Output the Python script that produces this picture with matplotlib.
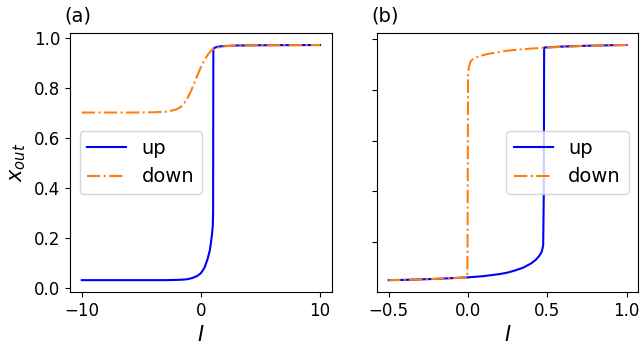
import matplotlib
matplotlib.use("Agg")
import matplotlib.pyplot as plt

# Panel (a)
a_up_x = [-10, -6, -3, -2, -1.5, -1.1, -0.7, -0.3, 0.0, 0.3, 0.56, 0.75, 0.85, 0.93, 0.99, 1.02, 1.04, 1.2, 1.5, 2.0, 3.0, 5.0, 10.0]
a_up_y = [0.030, 0.030, 0.030, 0.031, 0.032, 0.034, 0.039, 0.047, 0.058, 0.080, 0.115, 0.150, 0.185, 0.215, 0.245, 0.30, 0.955, 0.960, 0.964, 0.966, 0.968, 0.969, 0.970]
a_down_x = [-10, -6, -4, -3, -2.5, -2.0, -1.7, -1.4, -1.1, -0.8, -0.5, -0.2, 0.0, 0.3, 0.6, 0.9, 1.2, 1.6, 2.0, 3.0, 5.0, 10.0]
a_down_y = [0.700, 0.700, 0.701, 0.703, 0.707, 0.714, 0.722, 0.738, 0.760, 0.790, 0.825, 0.860, 0.882, 0.910, 0.933, 0.950, 0.957, 0.962, 0.965, 0.968, 0.969, 0.970]

# Panel (b)
b_up_x = [-0.5, -0.4, -0.3, -0.2, -0.1, 0.0, 0.1, 0.2, 0.25, 0.3, 0.35, 0.4, 0.43, 0.45, 0.465, 0.474, 0.478, 0.48, 0.6, 0.75, 0.9, 1.0]
b_up_y = [0.048, 0.049, 0.051, 0.053, 0.056, 0.059, 0.064, 0.072, 0.078, 0.087, 0.098, 0.115, 0.130, 0.145, 0.160, 0.185, 0.40, 0.968, 0.972, 0.975, 0.977, 0.978]
b_down_x = [1.0, 0.9, 0.75, 0.6, 0.5, 0.38, 0.253, 0.127, 0.07, 0.042, 0.025, 0.015, 0.006, 0.0, -0.003, -0.005, -0.1, -0.2, -0.3, -0.4, -0.5]
b_down_y = [0.978, 0.977, 0.975, 0.971, 0.968, 0.963, 0.956, 0.943, 0.934, 0.926, 0.919, 0.912, 0.892, 0.860, 0.20, 0.058, 0.056, 0.053, 0.051, 0.049, 0.048]

fig = plt.figure(figsize=(6.41, 3.5), dpi=100)
ax1 = fig.add_axes([0.109, 0.166, 0.409, 0.739])
ax2 = fig.add_axes([0.588, 0.166, 0.408, 0.739])

blue = (0.0, 0.0, 1.0)
orange = '#ff7f0e'

ax1.plot(a_up_x, a_up_y, '-', color=blue, lw=1.5, label='up')
ax1.plot(a_down_x, a_down_y, '-.', color=orange, lw=1.5, label='down')
ax2.plot(b_up_x, b_up_y, '-', color=blue, lw=1.5, label='up')
ax2.plot(b_down_x, b_down_y, '-.', color=orange, lw=1.5, label='down')

for ax in (ax1, ax2):
    ax.tick_params(labelsize=12)
    ax.set_xlabel('$I$', fontsize=15)

ax1.set_xticks([-10, 0, 10])
ax1.set_yticks([0.0, 0.2, 0.4, 0.6, 0.8, 1.0])
ax1.set_ylabel('$x_{out}$', fontsize=15)
ax2.set_xticks([-0.5, 0.0, 0.5, 1.0])
ax2.set_yticks([0.2, 0.4, 0.6, 0.8, 1.0])
ax2.tick_params(labelleft=False)

ax1.legend(loc='center left', fontsize=14)
ax2.legend(loc='center right', fontsize=14)

ax1.text(-0.02, 1.03, '(a)', transform=ax1.transAxes, ha='left', va='bottom', fontsize=14)
ax2.text(-0.02, 1.03, '(b)', transform=ax2.transAxes, ha='left', va='bottom', fontsize=14)

fig.savefig('out.png', dpi=100)
